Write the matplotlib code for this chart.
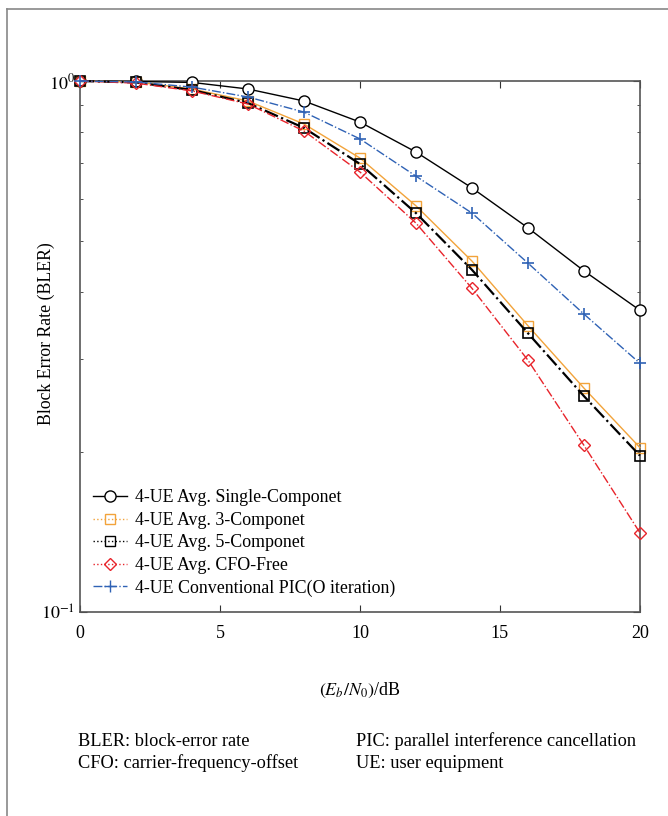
import numpy as np
import matplotlib
matplotlib.use('Agg')
import matplotlib.pyplot as plt
from matplotlib.lines import Line2D
from matplotlib.ticker import NullFormatter

plt.rcParams['font.family'] = ['Liberation Serif', 'DejaVu Serif']
plt.rcParams['mathtext.fontset'] = 'stix'

# Eb/N0 in dB
snr = [0, 2, 4, 6, 8, 10, 12, 14, 16, 18, 20]

# BLER values
bler_single = [1.0, 0.998, 0.994, 0.966, 0.917, 0.837, 0.735, 0.629, 0.529, 0.439, 0.370]
bler_3comp = [1.0, 0.996, 0.966, 0.917, 0.830, 0.716, 0.582, 0.458, 0.346, 0.264, 0.204]
bler_5comp = [1.0, 0.994, 0.962, 0.909, 0.816, 0.698, 0.564, 0.441, 0.335, 0.255, 0.197]
bler_cfo_free = [1.0, 0.991, 0.958, 0.905, 0.805, 0.674, 0.540, 0.407, 0.298, 0.206, 0.141]
bler_pic = [1.0, 0.996, 0.974, 0.933, 0.874, 0.778, 0.662, 0.564, 0.454, 0.364, 0.294]

labels = ['4-UE Avg. Single-Componet',
          '4-UE Avg. 3-Componet',
          '4-UE Avg. 5-Componet',
          '4-UE Avg. CFO-Free',
          '4-UE Conventional PIC(O iteration)']

orange = '#F2A33A'
blue = '#2F62B5'
red = '#E8242B'

fig = plt.figure(figsize=(6.68, 8.16), dpi=100)
ax = fig.add_axes([0.1198, 0.25, 0.8382, 0.6507])

ax.plot(snr, bler_single, '-', color='black', lw=1.0, marker='o', ms=8,
        mfc='white', mec='black', mew=1.0, clip_on=False, zorder=3)
ax.plot(snr, bler_3comp, '-', color=orange, lw=1.0, marker='s', ms=7,
        mfc='none', mec=orange, mew=1.0, clip_on=False, zorder=3)
ax.plot(snr, bler_5comp, '-.', color='black', lw=1.6, marker='s', ms=7,
        mfc='none', mec='black', mew=1.2, clip_on=False, zorder=3)
ax.plot(snr, bler_cfo_free, '-.', color=red, lw=1.0, marker='D', ms=6.5,
        mfc='none', mec=red, mew=1.0, clip_on=False, zorder=3)
ax.plot(snr, bler_pic, '-.', color=blue, lw=1.0, marker='+', ms=9,
        mec=blue, mew=1.2, clip_on=False, zorder=3)

ax.set_yscale('log')
ax.set_xlim(0, 20)
ax.set_ylim(0.1, 1.0)
ax.set_xticks([0, 5, 10, 15, 20])
ax.set_yticks([0.1, 1.0])
ax.set_yticklabels([r'$10^{-1}$', r'$10^{0}$'])
ax.yaxis.set_minor_formatter(NullFormatter())
ax.tick_params(which='both', direction='in', top=True, right=True,
               labelsize=13, colors='#333333', labelcolor='black')
ax.tick_params(axis='x', pad=9)
ax.tick_params(which='major', length=5)
ax.tick_params(which='minor', length=2.5)
for s in ax.spines.values():
    s.set_color('#555555')
    s.set_linewidth(1.2)

ax.set_ylabel('Block Error Rate (BLER)', fontsize=12.8)
ax.yaxis.set_label_coords(-0.045, 0.525)
ax.set_xlabel(r'$(E_b/N_0)$/dB', fontsize=13, labelpad=28)

# legend uses its own line styles
handles = [
    Line2D([], [], color='black', ls='-', lw=1.0, marker='o', ms=8, mfc='white', mec='black'),
    Line2D([], [], color=orange, ls=':', lw=1.0, marker='s', ms=7, mfc='none', mec=orange),
    Line2D([], [], color='black', ls=':', lw=1.0, marker='s', ms=7, mfc='none', mec='black'),
    Line2D([], [], color=red, ls=':', lw=1.0, marker='D', ms=6.5, mfc='none', mec=red),
    Line2D([], [], color=blue, ls='-.', lw=1.0, marker='+', ms=9, mec=blue),
]
ax.legend(handles, labels, loc='lower left', bbox_to_anchor=(0.0, 0.005),
          frameon=False, fontsize=12.9, handlelength=1.9, handletextpad=0.45,
          labelspacing=0.31, borderaxespad=0.3)

# footnotes
fig.text(0.117, 0.0915, 'BLER: block-error rate', fontsize=13.2, va='center')
fig.text(0.117, 0.0645, 'CFO: carrier-frequency-offset', fontsize=13.2, va='center')
fig.text(0.533, 0.0915, 'PIC: parallel interference cancellation', fontsize=13.2, va='center')
fig.text(0.533, 0.0645, 'UE: user equipment', fontsize=13.2, va='center')

# frame lines on left and top of the figure
fig.add_artist(Line2D([0.0105, 0.0105], [0.0, 0.989], transform=fig.transFigure,
                      color='#888888', lw=1.2))
fig.add_artist(Line2D([0.0105, 1.0], [0.989, 0.989], transform=fig.transFigure,
                      color='#888888', lw=1.2))

fig.savefig('out.png', dpi=100)
